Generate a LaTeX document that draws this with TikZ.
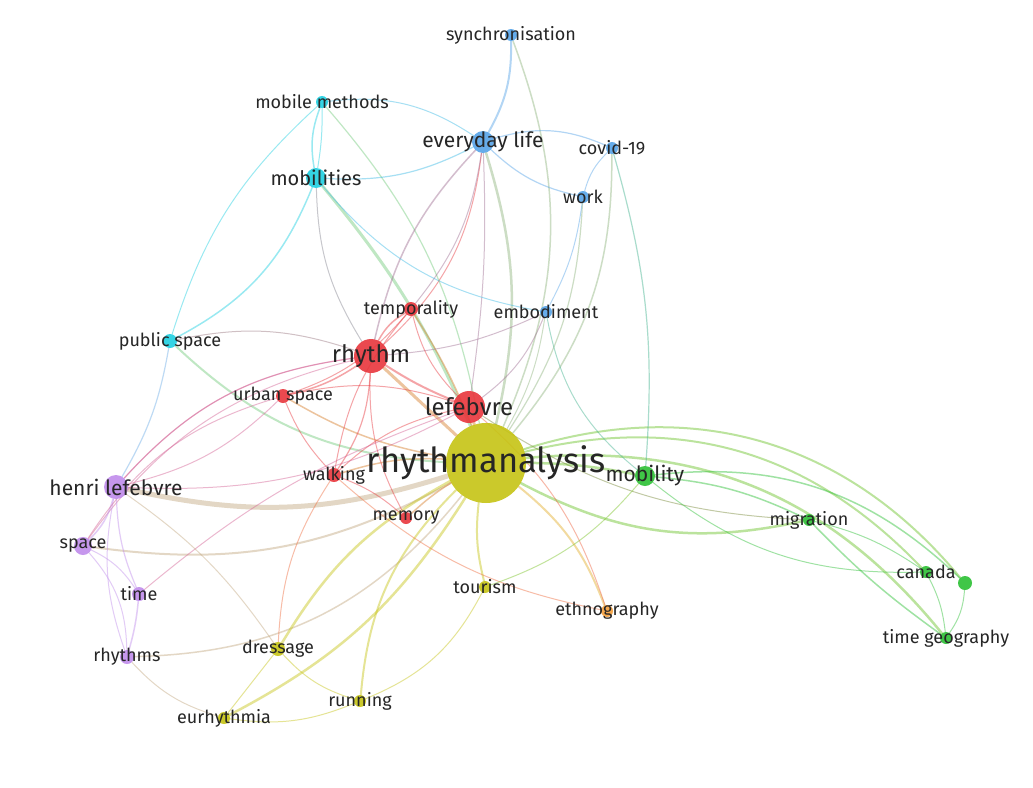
\documentclass[tikz,border=0pt]{standalone}
\usepackage{fontspec}
\setmainfont{Fira Sans}
\usetikzlibrary{backgrounds}

\definecolor{cred}{RGB}{232,54,60}
\definecolor{cylw}{RGB}{198,196,20}
\definecolor{cblu}{RGB}{86,164,232}
\definecolor{ccyn}{RGB}{30,208,226}
\definecolor{cgrn}{RGB}{44,192,52}
\definecolor{cprp}{RGB}{192,140,236}
\definecolor{corg}{RGB}{246,160,60}

\tikzset{
  dot/.style={circle, fill=#1, inner sep=0pt, fill opacity=.9},
  lbl/.style={text=black!85, inner sep=0pt},
  link/.style={line width=#1, draw opacity=.45, line cap=round},
}

\begin{document}
\begin{tikzpicture}[x=1pt,y=-1pt]
\useasboundingbox (0,0) rectangle (1033,787);

% keywords: name/x/y/size/colour
\foreach \n/\x/\y/\d/\c in {
  ra/486/463/80/cylw, lef/469/407/32/cred, rhy/371/356/34/cred,
  temp/411/309/14/cred, us/283/396/14/cred, walk/334/475/14/cred,
  mem/406/518/12/cred,
  evl/483/142/22/cblu, sync/511/35/12/cblu, covid/612/148/12/cblu,
  work/583/197/12/cblu, emb/546/312/12/cblu,
  mobs/316/178/20/ccyn, mm/322/102/12/ccyn, ps/170/341/14/ccyn,
  hl/116/487/24/cprp, space/83/546/18/cprp, time/139/594/14/cprp,
  rhys/127/657/14/cprp,
  mob/645/476/20/cgrn, mig/809/520/12/cgrn, can/926/572/12/cgrn,
  can2/965/583/14/cgrn, tg/946/638/12/cgrn,
  tour/485/587/12/cylw, dress/278/649/14/cylw, run/360/701/12/cylw,
  eur/224/718/12/cylw, ethno/607/611/12/corg}
  \node[dot=\c, minimum size=\d] (\n) at (\x,\y) {};

\begin{scope}[on background layer]
\fill[white] (0,0) rectangle (1033,787);
% links: from/to/colour/width/bend
\foreach \a/\b/\c/\w/\bb in {
  ra/mob/cylw!40!cgrn/2.5/5, ra/mig/cylw!40!cgrn/2.5/-20,
  ra/can/cylw!40!cgrn/2/30, ra/can2/cylw!40!cgrn/2/34,
  ra/tg/cylw!40!cgrn/2.5/28,
  evl/ra/cblu!50!cylw/2.5/15, sync/ra/cblu!50!cylw/1.5/22,
  covid/ra/cblu!50!cylw/1.5/20, work/ra/cblu!50!cylw/1.2/15,
  emb/ra/cblu!50!cylw/1/10,
  mobs/ra/ccyn!50!cylw/3/8, mm/ra/ccyn!50!cylw/1.2/15,
  ps/ra/ccyn!50!cylw/2/-20,
  hl/ra/cprp!50!cylw/5/-15, space/ra/cprp!50!cylw/2/-18,
  rhys/ra/cprp!50!cylw/1.5/-25,
  dress/ra/cylw/2.5/15, eur/ra/cylw/2.5/-15, run/ra/cylw/2/20,
  tour/ra/cylw/2/10, ra/ethno/corg!60!cylw/2/15,
  mem/ra/cred!50!cylw/1.5/5, walk/ra/cred!50!cylw/1.5/10,
  us/ra/cred!50!cylw/1.5/-10, rhy/ra/cred!50!cylw/3/0,
  lef/ra/cred!50!cylw/3/0, temp/ra/cred!50!cylw/1.5/5,
  rhy/lef/cred/2/-5, rhy/temp/cred/1.5/15, rhy/us/cred/1.5/10,
  rhy/walk/cred/1.2/15, rhy/mem/cred/1/-15,
  evl/rhy/cred!50!cblu/1.5/-15, rhy/evl/cred/1/-20,
  rhy/hl/cred!50!cprp/1.2/-20, rhy/space/cred!50!cprp/1/-20,
  mobs/rhy/cred!50!ccyn/1/-15, emb/rhy/cblu!50!cred/1/10,
  temp/evl/cred!50!cblu/1/-15, ps/rhy/ccyn!40!cred/1/15,
  lef/temp/cred/1/15, lef/us/cred/1/-15, lef/walk/cred/1/-15,
  lef/emb/cred!50!cblu/1/-15, lef/ethno/cred!60!corg/1/15,
  lef/mig/cred!40!cgrn/1/-15, walk/ethno/cred!50!corg/1/-15,
  temp/walk/cred/1/-15, temp/us/cred/1/15,
  us/hl/cred!50!cprp/1/15, us/walk/cred/1/-10,
  hl/lef/cred!50!cprp/1/-15, hl/rhy/cred!50!cprp/1/20,
  walk/dress/cred!50!corg/1/-15, walk/mem/cred/1/10,
  evl/sync/cblu/2/-15, evl/covid/cblu/1.2/20, evl/work/cblu/1.2/-15,
  work/covid/cblu/1/15, covid/mob/cblu!50!cgrn/1.2/10,
  mm/evl/cblu!50!ccyn/1/20, mobs/evl/cblu!50!ccyn/1.2/-15,
  evl/lef/cblu!50!cred/1/5, work/emb/cblu/1/10,
  mobs/emb/cblu!50!ccyn/1/-20, emb/mob/cblu!50!cgrn/1/-20,
  mm/mobs/ccyn/1.5/-15, mm/mobs/ccyn/1/5, mm/ps/ccyn/1/-15,
  mobs/ps/ccyn/1.5/20,
  ps/hl/ccyn!50!cprp/1.2/10,
  hl/space/cprp/1.5/15, hl/time/cprp/1.2/-10, hl/rhys/cprp/1/-15,
  space/time/cprp/1/15, space/rhys/cprp/1/20, time/rhys/cprp/1.5/5,
  space/us/cprp!50!cred/1/20, time/lef/cprp!50!cred/1/10,
  rhys/eur/cprp!50!cylw/1/-15, hl/dress/cprp!50!cylw/1/10,
  dress/eur/cylw/1/0, dress/run/cylw/1/-15, eur/run/cylw/1/-15,
  tour/run/cylw/1/20, tour/mob/cylw!50!cgrn/1/-15,
  mob/mig/cgrn/1.5/10, mob/can/cgrn/1/-20, mig/can/cgrn/1/10,
  mig/tg/cgrn/1.5/-5, can/tg/cgrn/1/10, can2/tg/cgrn/1/15,
  mob/can2/cgrn/1.5/25}
  \draw[link=\w, draw=\c] (\a) to[bend left=\bb] (\b);
\end{scope}

% labels: name/text/size
\foreach \n/\t/\s in {
  ra/rhythmanalysis/34.5, lef/lefebvre/24, rhy/rhythm/24,
  temp/temporality/18, us/urban space/18, walk/walking/18,
  mem/memory/18, evl/everyday life/21, sync/synchronisation/18,
  covid/covid-19/18, work/work/18, emb/embodiment/18,
  mobs/mobilities/20, mm/mobile methods/18, ps/public space/18,
  hl/henri lefebvre/21, space/space/18, time/time/18,
  rhys/rhythms/18, mob/mobility/21, mig/migration/18,
  can/canada/18, tg/time geography/18, tour/tourism/18,
  dress/dressage/18, run/running/18, eur/eurhythmia/18,
  ethno/ethnography/18}
  \node[lbl, font=\fontsize{\s}{\s}\selectfont] (\n-t) at (\n) {\t};
\end{tikzpicture}
\end{document}
